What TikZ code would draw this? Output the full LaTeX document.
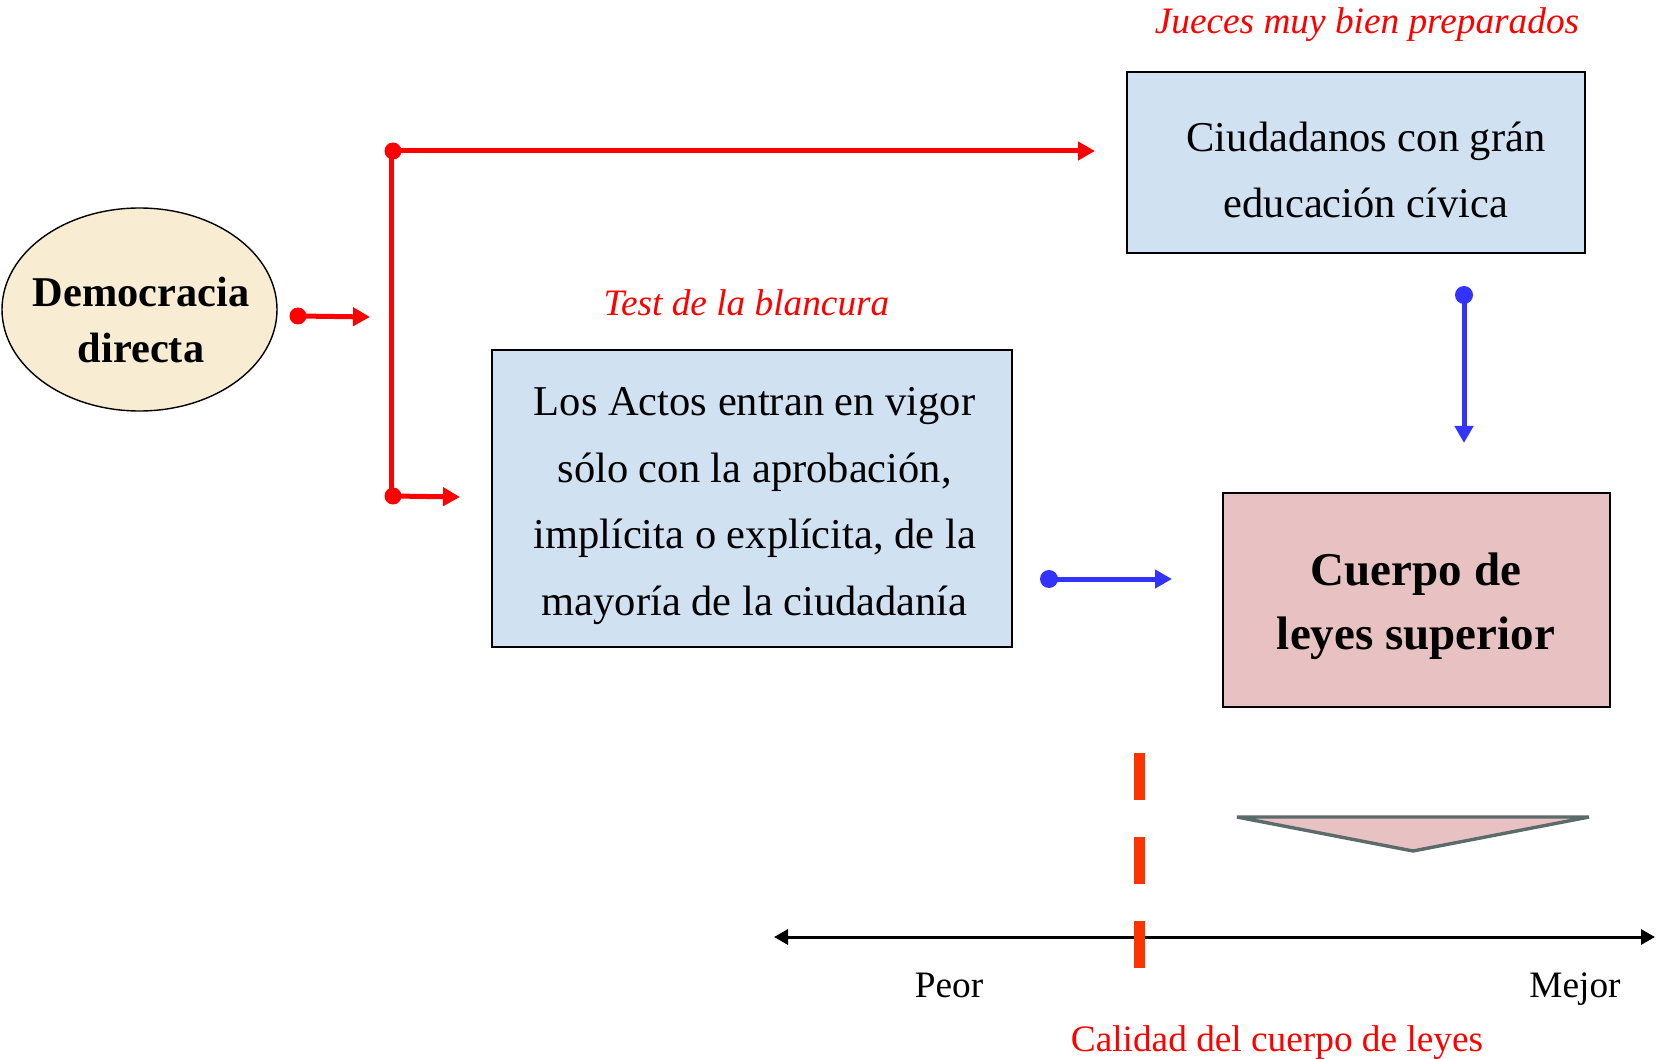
\documentclass[tikz,border=0pt]{standalone}
\usepackage{fontspec}
\setmainfont{Liberation Serif}
\usetikzlibrary{arrows.meta,shapes.geometric}
\definecolor{creamfill}{HTML}{F8EDD2}
\definecolor{bluefill}{HTML}{D0E1F2}
\definecolor{pinkfill}{HTML}{E8C2C2}
\definecolor{arrowblue}{HTML}{3333FF}
\definecolor{dashred}{HTML}{FF3300}
\definecolor{trigray}{HTML}{5B6B6B}
\begin{document}
\begin{tikzpicture}[x=0.5pt,y=-0.5pt,
 boxtext/.style={align=center,font=\fontsize{21.25pt}{33.25pt}\selectfont,inner sep=0pt},
 boldtext/.style={align=center,inner sep=0pt},
 panel/.style={draw=black,line width=1pt,rectangle,inner sep=0pt},
 redconn/.style={draw=red,line width=2.5pt,-{Triangle[length=8.5pt,width=9pt]}},
 blueconn/.style={draw=arrowblue,line width=2.5pt,-{Triangle[length=8.5pt,width=9pt]}},
 redlabel/.style={text=red,font=\fontsize{18.65pt}{22pt}\selectfont\itshape,anchor=base,inner sep=0pt},
 axlabel/.style={font=\fontsize{18.65pt}{22pt}\selectfont,anchor=base,inner sep=0pt},
]
\useasboundingbox (0,0) rectangle (1656,1059);
\fill[white] (0,0) rectangle (1656,1059);

% shapes
\node[ellipse,draw=black,line width=0.7pt,fill=creamfill,minimum width=137.5pt,minimum height=101.5pt,inner sep=0pt] (dem) at (139.5,309.5) {};
\node[boldtext,font=\fontsize{21.2pt}{28pt}\selectfont\bfseries] (demt) at (141,320) {Democracia\\directa};

\node[panel,fill=bluefill,minimum width=229pt,minimum height=90.5pt] (civ) at (1356,162.5) {};
\node[boxtext] (civt) at (1366,170) {Ciudadanos con grán\\educación cívica};

\node[panel,fill=bluefill,minimum width=260pt,minimum height=148.5pt] (act) at (752,498.5) {};
\node[boxtext] (actt) at (754.6,506) {Los Actos entran en vigor\\sólo con la aprobación,\\implícita o explícita, de la\\mayoría de la ciudadanía};

\node[panel,fill=pinkfill,minimum width=193.5pt,minimum height=107pt] (cue) at (1416,600) {};
\node[boldtext,font=\fontsize{23.5pt}{32pt}\selectfont\bfseries] (cuet) at (1416,606.5) {Cuerpo de\\leyes superior};

% labels
\node[redlabel] (jue) at (1367,34) {Jueces muy bien preparados};
\node[redlabel] (tes) at (746.5,316) {Test de la blancura};
\node[axlabel] (peor) at (949,997) {Peor};
\node[axlabel] (mej) at (1575,997) {Mejor};
\node[axlabel,text=red] (cal) at (1277,1051) {Calidad del cuerpo de leyes};

% connector points
\coordinate (a0) at (298,316); \coordinate (a1) at (370,317);
\coordinate (vt) at (393,151); \coordinate (vb) at (393,496);
\coordinate (t1) at (1095,151); \coordinate (b1) at (460,497);
\coordinate (h0) at (1049,579); \coordinate (h1) at (1172,579);
\coordinate (v0) at (1464,295); \coordinate (v1) at (1464,443);
\coordinate (d0) at (1139.5,753); \coordinate (d1) at (1139.5,968);
\coordinate (axL) at (774,937); \coordinate (axR) at (1655,937);
\coordinate (tri1) at (1237,817); \coordinate (tri2) at (1589,817); \coordinate (tri3) at (1413,851);

% red connectors
\draw[red,line width=2.5pt] ([xshift=-1pt]vt) -- ([xshift=-1pt]vb);
\draw[redconn] (a0) -- (a1);
\draw[redconn] (vt) -- (t1);
\draw[redconn] (vb) -- (b1);
\fill[red] (a0) circle[radius=4.25pt];
\fill[red] (vt) circle[radius=4.25pt];
\fill[red] (vb) circle[radius=4.25pt];

% blue connectors
\draw[blueconn] (h0) -- (h1);
\draw[blueconn] (v0) -- (v1);
\fill[arrowblue] (h0) circle[radius=4.5pt];
\fill[arrowblue] (v0) circle[radius=4.5pt];

% quality scale
\draw[black,line width=1.5pt,{Triangle[length=7pt,width=7.5pt]}-{Triangle[length=7pt,width=7.5pt]}] (axL) -- (axR);
\draw[dashred,line width=5.75pt,dash pattern=on 23.5pt off 18.5pt] (d0) -- (d1);
\draw[trigray,line width=1.7pt,fill=pinkfill] (tri1) -- (tri2) -- (tri3) -- cycle;
\end{tikzpicture}
\end{document}
